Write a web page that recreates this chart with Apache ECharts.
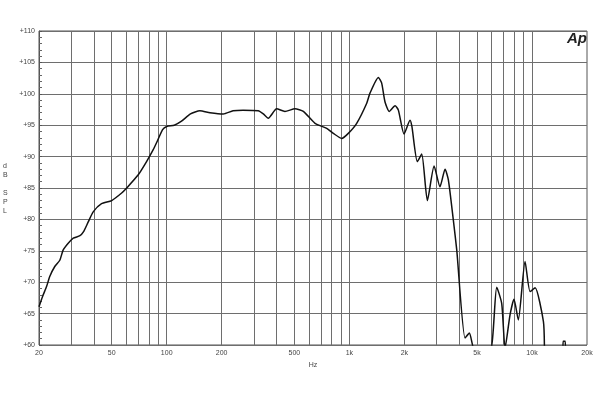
<!DOCTYPE html>
<html><head><meta charset="utf-8">
<script src="https://cdn.jsdelivr.net/npm/echarts@6/dist/echarts.min.js"></script>
<style>html,body{margin:0;padding:0;background:#fff}#c{width:600px;height:400px}</style>
</head><body><div id="c"></div>
<script>
// frequency (Hz) and SPL (dB); values below 60 are outside the plot, null breaks the line
const freqs = [20,20.9,22.0,22.9,24.4,26.0,27.1,28.9,30.8,33.5,35.0,37.2,39.6,44.0,50,56.7,60.4,69.9,77.6,84.4,88,95,100,110,120,135,152,172.6,204,231,262,317,338,360,400,444,504,560,649,752,817,908,987,1097,1245,1297,1442,1503,1568,1655,1779,1855,1992,2149,2200,2356,2490,2674,2911,3135,3342,3484,3709,3873,4299,4538,4876,5890,6409,6827,7118,7580,7970,8415,9160,9760,10400,11550,11700,12000,14700,14760,14800,15200,15250,15300];
const spl   = [66.1,67.7,69.3,70.9,72.5,73.5,75.1,76.2,77.0,77.4,78.0,79.6,81.2,82.5,83.0,84.2,85.0,87.1,89.2,91.1,92.2,94.3,94.8,95.0,95.6,96.8,97.3,97.0,96.8,97.3,97.4,97.3,96.8,96.1,97.6,97.2,97.6,97.2,95.3,94.5,93.7,92.9,93.7,95.3,98.5,100.1,102.6,101.7,98.7,97.2,98.1,97.4,93.6,95.8,94.8,89.2,90.4,83.0,88.5,85.2,88.0,86.3,79.9,75.1,61.1,61.9,59,59,69.2,66.6,59.5,64.8,67.3,64.0,73.3,68.5,69.1,63.7,59,null,null,59,60.6,60.6,59,null];
const gridFreqs = [30,40,50,60,70,80,90,100,200,300,400,500,600,700,800,900,1000,2000,3000,4000,5000,6000,7000,8000,9000,10000];
const xTickLabels = [20,50,100,200,500,1000,2000,5000,10000,20000];
const yMin = 60, yMax = 110, yStep = 5;

const chart = echarts.init(document.getElementById('c'));
const data = freqs.map((f,i)=>[f, spl[i]]);
const gridCol = '#6e6e6e';
chart.setOption({
  animation:false,
  grid:{left:39,right:13,top:31,bottom:55,show:true,borderColor:'#555',borderWidth:1},
  xAxis:{type:'log',logBase:10,min:20,max:20000,
    axisLine:{show:false},
    axisTick:{show:false},
    splitLine:{show:false},
    minorTick:{show:false},
    axisLabel:{customValues:xTickLabels,fontSize:7,color:'#444',margin:5,fontFamily:'Arial, Liberation Sans',
      formatter:v=> v>=1000 ? (v/1000)+'k' : String(v)},
    name:'Hz',nameLocation:'middle',nameGap:17,nameTextStyle:{fontSize:7,color:'#444',fontFamily:'Arial, Liberation Sans'}
  },
  yAxis:{type:'value',min:yMin,max:yMax,interval:yStep,
    axisLine:{show:true,lineStyle:{color:'#555'}},
    axisTick:{show:true,inside:true,length:3,lineStyle:{color:'#555'}},
    minorTick:{show:true,splitNumber:5,length:3,lineStyle:{color:'#666'}},
    splitLine:{show:true,lineStyle:{color:gridCol,width:1}},
    axisLabel:{fontSize:7,color:'#444',margin:4,fontFamily:'Arial, Liberation Sans',formatter:v=>'+'+v}
  },
  graphic:[
    {type:'text',left:3,top:162,style:{text:'d\nB\n\nS\nP\nL',fontSize:7,lineHeight:9,fill:'#444',fontFamily:'Arial, Liberation Sans',align:'center'}},
    {type:'text',left:567,top:31,style:{text:'Ap',fontSize:15,fontWeight:'bold',fontStyle:'italic',fill:'#222',fontFamily:'Liberation Sans, Arial'}}
  ],
  series:[{
    type:'line',data:data,showSymbol:false,symbol:'none',connectNulls:false,clip:true,smooth:0.2,
    lineStyle:{color:'#111',width:1.5},
    z:5,
    markLine:{silent:true,symbol:'none',animation:false,label:{show:false},
      lineStyle:{color:gridCol,width:1,type:'solid'},
      data:gridFreqs.map(f=>({xAxis:f}))}
  }]
});
</script></body></html>
